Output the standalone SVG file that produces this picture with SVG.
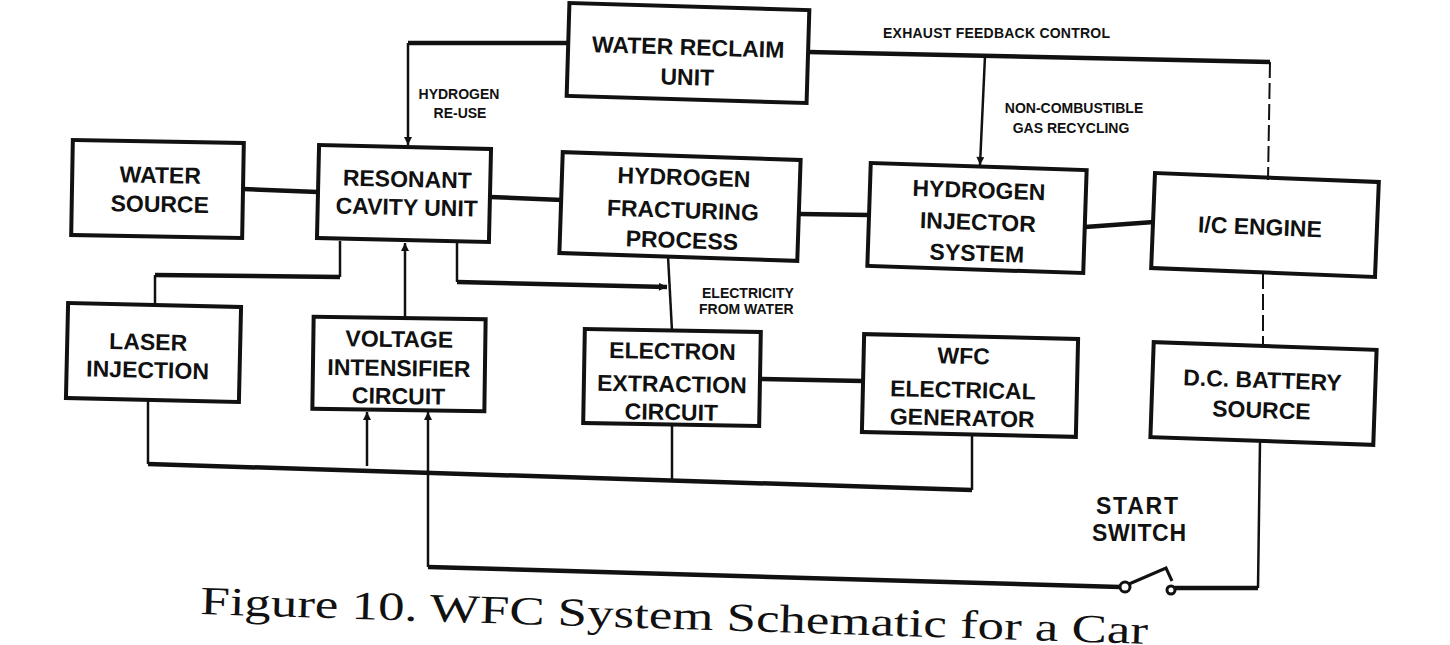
<svg xmlns="http://www.w3.org/2000/svg" width="1450" height="645" viewBox="0 0 1450 645">
<defs>
<style>
.box{fill:none;stroke:#111;stroke-width:4}
.lbl{font-family:"Liberation Sans",Arial,sans-serif;font-weight:bold;font-size:23px;fill:#111;text-anchor:middle}
.sm{font-family:"Liberation Sans",Arial,sans-serif;font-weight:bold;font-size:14px;fill:#111}
.mid{text-anchor:middle}
.th{fill:none;stroke:#111;stroke-width:4.5}
.tn{fill:none;stroke:#111;stroke-width:2.5}
.ds{fill:none;stroke:#111;stroke-width:2;stroke-dasharray:16 5}
.sw{fill:#fff;stroke:#111;stroke-width:3}
.cap{font-family:"Liberation Serif","Times New Roman",serif;font-size:40px;fill:#111}
</style>
<marker id="ah" viewBox="0 0 10 10" refX="10" refY="5" markerWidth="9" markerHeight="8" markerUnits="userSpaceOnUse" orient="auto">
<path d="M0,0 L10,5 L0,10 z" fill="#111"/>
</marker>
</defs>
<rect width="1450" height="645" fill="#fff"/>

<g id="connectors">
<path class="th" d="M568,43 L408,43"/>
<path class="tn" d="M408,43 L408,145" marker-end="url(#ah)"/>
<path class="th" d="M808,52 L1270,62"/>
<path class="ds" d="M1270,62 L1268,180"/>
<path class="tn" d="M985,56 L980,165" marker-end="url(#ah)"/>
<path class="th" d="M243,189 L318,192"/>
<path class="th" d="M490,197 L562,200"/>
<path class="th" d="M799,214 L869,215"/>
<path class="th" d="M1085,227 L1154,222"/>
<path class="tn" d="M340,241 L340,277"/>
<path class="th" d="M340,277 L155,275"/>
<path class="tn" d="M155,275 L155,305"/>
<path class="tn" d="M405,318 L405,243" marker-end="url(#ah)"/>
<path class="tn" d="M457,241 L457,282"/>
<path class="th" d="M457,282 L667,287" marker-end="url(#ah)"/>
<path class="tn" d="M668,256 L672,331"/>
<path class="tn" d="M148,400 L148,464"/>
<path class="th" d="M148,464 L972,490"/>
<path class="tn" d="M972,490 L972,436"/>
<path class="tn" d="M367,466 L367,412" marker-end="url(#ah)"/>
<path class="tn" d="M428,567 L428,412" marker-end="url(#ah)"/>
<path class="tn" d="M672,425 L672,481"/>
<path class="th" d="M760,379 L863,381"/>
<path class="ds" d="M1263,273 L1263,345"/>
<path class="tn" d="M1260,442 L1258,588"/>
<path class="th" d="M1258,588 L1175,588"/>
<path class="th" d="M428,567 L1120,587"/>
<path fill="none" stroke="#111" stroke-width="3" d="M1129,584 L1166,568 L1172,581"/>
<circle class="sw" cx="1125" cy="587" r="5"/>
<circle class="sw" cx="1171" cy="590" r="4"/>
</g>

<g id="labels">
<text class="sm" x="883" y="38" textLength="227">EXHAUST FEEDBACK CONTROL</text>
<text class="sm mid" x="1074" y="113">NON-COMBUSTIBLE</text>
<text class="sm mid" x="1071" y="133">GAS RECYCLING</text>
<text class="sm mid" x="459" y="99">HYDROGEN</text>
<text class="sm mid" x="460" y="118">RE-USE</text>
<text class="sm" x="702" y="298">ELECTRICITY</text>
<text class="sm" x="699" y="314">FROM WATER</text>
<text class="lbl" x="1137" y="514" font-size="21" textLength="82">START</text>
<text class="lbl" x="1139" y="541" font-size="21" textLength="94">SWITCH</text>
</g>

<g id="water-reclaim-unit" transform="rotate(1.7 688 53)">
<rect class="box" x="568" y="6.5" width="240" height="93"/>
<text class="lbl" x="688" y="55">WATER RECLAIM</text>
<text class="lbl" x="688" y="85">UNIT</text>
</g>
<g id="water-source" transform="rotate(1 157.5 189)">
<rect class="box" x="72" y="141.5" width="171" height="95"/>
<text class="lbl" x="160" y="183">WATER</text>
<text class="lbl" x="160" y="212">SOURCE</text>
</g>
<g id="resonant-cavity-unit" transform="rotate(1.3 404 193.5)">
<rect class="box" x="318" y="147" width="172" height="93"/>
<text class="lbl" x="407" y="187">RESONANT</text>
<text class="lbl" x="407" y="215">CAVITY UNIT</text>
</g>
<g id="hydrogen-fracturing-process" transform="rotate(1.9 680 206.5)">
<rect class="box" x="561" y="156" width="238" height="101"/>
<text class="lbl" x="683" y="185">HYDROGEN</text>
<text class="lbl" x="683" y="218">FRACTURING</text>
<text class="lbl" x="683" y="248">PROCESS</text>
</g>
<g id="hydrogen-injector-system" transform="rotate(1.9 977 218)">
<rect class="box" x="869" y="166.5" width="216" height="103"/>
<text class="lbl" x="978" y="198">HYDROGEN</text>
<text class="lbl" x="978" y="230">INJECTOR</text>
<text class="lbl" x="978" y="261">SYSTEM</text>
</g>
<g id="ic-engine" transform="rotate(2.3 1265 225)">
<rect class="box" x="1153" y="177.5" width="224" height="95"/>
<text class="lbl" x="1260" y="235">I/C ENGINE</text>
</g>
<g id="laser-injection" transform="rotate(1.3 153.5 352.5)">
<rect class="box" x="67" y="305" width="173" height="95"/>
<text class="lbl" x="148" y="350">LASER</text>
<text class="lbl" x="148" y="378">INJECTION</text>
</g>
<g id="voltage-intensifier-circuit" transform="rotate(0.8 399 364)">
<rect class="box" x="313" y="318" width="172" height="92"/>
<text class="lbl" x="399" y="347">VOLTAGE</text>
<text class="lbl" x="399" y="376">INTENSIFIER</text>
<text class="lbl" x="399" y="404">CIRCUIT</text>
</g>
<g id="electron-extraction-circuit" transform="rotate(1 672 377.5)">
<rect class="box" x="584" y="330.5" width="176" height="94"/>
<text class="lbl" x="672" y="359">ELECTRON</text>
<text class="lbl" x="672" y="392">EXTRACTION</text>
<text class="lbl" x="672" y="420">CIRCUIT</text>
</g>
<g id="wfc-electrical-generator" transform="rotate(1.3 970 385.5)">
<rect class="box" x="863" y="336.5" width="214" height="98"/>
<text class="lbl" x="963" y="364">WFC</text>
<text class="lbl" x="963" y="398">ELECTRICAL</text>
<text class="lbl" x="963" y="426">GENERATOR</text>
</g>
<g id="dc-battery-source" transform="rotate(2 1263.5 393.5)">
<rect class="box" x="1152" y="346" width="223" height="95"/>
<text class="lbl" x="1262" y="388">D.C. BATTERY</text>
<text class="lbl" x="1262" y="418">SOURCE</text>
</g>

<text class="cap" x="200" y="614" transform="rotate(1.8 200 614)" textLength="948" lengthAdjust="spacingAndGlyphs">Figure 10. WFC System Schematic for a Car</text>
</svg>
